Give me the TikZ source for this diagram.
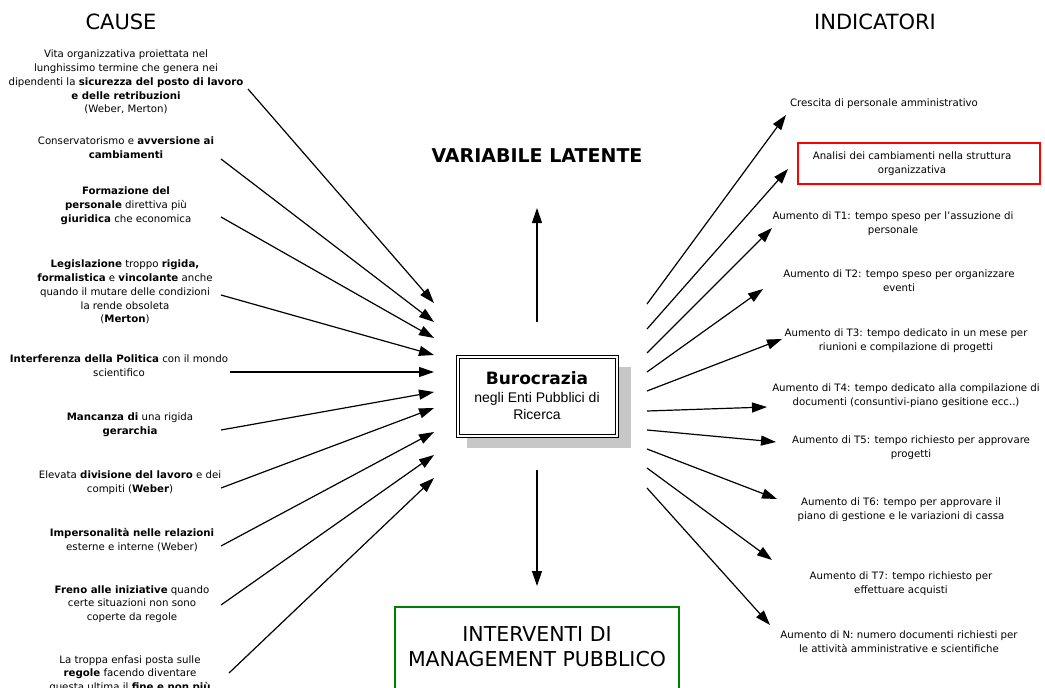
\documentclass[tikz,border=0pt]{standalone}
\usepackage{fontspec}
\setmainfont{DejaVu Sans}
\newfontfamily\arialfont{Liberation Sans}
\usetikzlibrary{arrows.meta}

\tikzset{
  testo/.style={align=center, inner sep=0pt, font=\fontsize{10.2}{13.8}\selectfont},
  titolo/.style={inner sep=0pt, font=\fontsize{21}{24}\selectfont},
  freccia/.style={-{Triangle[length=15pt,width=10pt]}, line width=1.2pt},
}

\begin{document}
\begin{tikzpicture}[x=1pt,y=-1pt]
  \clip (0,0) rectangle (1045,688);
  %TITOLI
  \node[titolo] (cause) at (121,22) {CAUSE};
  \node[titolo] (indicatori) at (875,22) {INDICATORI};
  \node[titolo, font=\fontsize{19}{22}\selectfont\bfseries] (latente) at (537,156) {VARIABILE LATENTE};

  %BUROCRAZIA
  \fill[black!22] (467,367) rectangle (631,448);
  \draw[fill=white, line width=0.6pt] (456,355) rectangle (618,437);
  \draw[line width=0.6pt] (459,358) rectangle (615,434);
  \node[inner sep=0pt, font=\fontsize{17}{20}\selectfont\bfseries] (buro) at (537,378) {Burocrazia};
  \node[align=center, inner sep=0pt, font=\arialfont\fontsize{14}{17}\selectfont] (enti) at (537,406)
    {negli Enti Pubblici di\\ Ricerca};

  %INTERVENTI
  \draw[green!50!black, line width=2.2pt] (395,607) rectangle (679,700);
  \node[titolo, align=center, font=\fontsize{20.5}{25}\selectfont] (interventi) at (537,647)
    {INTERVENTI DI\\ MANAGEMENT PUBBLICO};

  %FRECCE CENTRALI
  \coordinate (su0) at (537,322);
  \coordinate (su1) at (537,208);
  \coordinate (giu0) at (537,470);
  \coordinate (giu1) at (537,586);
  \draw[freccia] (su0) -- (su1);
  \draw[freccia] (giu0) -- (giu1);

  %CAUSE
  \node[testo] (c1) at (126,82) {Vita organizzativa proiettata nel\\ lunghissimo termine che genera nei\\
    dipendenti la \textbf{sicurezza del posto di lavoro}\\ \textbf{e delle retribuzioni}\\ (Weber, Merton)};
  \node[testo] (c2) at (126,148) {Conservatorismo e \textbf{avversione ai}\\ \textbf{cambiamenti}};
  \node[testo] (c3) at (126,206) {\textbf{Formazione del}\\ \textbf{personale} direttiva più\\ \textbf{giuridica} che economica};
  \node[testo] (c4) at (125,292) {\textbf{Legislazione} troppo \textbf{rigida,}\\ \textbf{formalistica} e \textbf{vincolante} anche\\
    quando il mutare delle condizioni\\ la rende obsoleta\\ (\textbf{Merton})};
  \node[testo] (c5) at (119,366) {\textbf{Interferenza della Politica} con il mondo\\ scientifico};
  \node[testo] (c6) at (130,425) {\textbf{Mancanza di} una rigida\\ \textbf{gerarchia}};
  \node[testo] (c7) at (130,483) {Elevata \textbf{divisione del lavoro} e dei\\ compiti (\textbf{Weber})};
  \node[testo] (c8) at (132,540) {\textbf{Impersonalità nelle relazioni}\\ esterne e interne (Weber)};
  \node[testo] (c9) at (132,604) {\textbf{Freno alle iniziative} quando\\ certe situazioni non sono\\ coperte da regole};
  \node[testo] (c10) at (130,674) {La troppa enfasi posta sulle\\ \textbf{regole} facendo diventare\\ questa ultima il \textbf{fine e non più}};

  %FRECCE CAUSE
  \coordinate (a1) at (248,89);   \coordinate (b1) at (434,303);
  \coordinate (a2) at (221,159);  \coordinate (b2) at (434,322);
  \coordinate (a3) at (221,217);  \coordinate (b3) at (434,338);
  \coordinate (a4) at (221,295);  \coordinate (b4) at (434,355);
  \coordinate (a5) at (230,372);  \coordinate (b5) at (434,372);
  \coordinate (a6) at (221,430);  \coordinate (b6) at (434,392);
  \coordinate (a7) at (221,488);  \coordinate (b7) at (434,408);
  \coordinate (a8) at (221,546);  \coordinate (b8) at (434,432);
  \coordinate (a9) at (221,605);  \coordinate (b9) at (434,455);
  \coordinate (a10) at (229,673); \coordinate (b10) at (434,478);
  \foreach \i in {1,...,10}
    \draw[freccia] (a\i) -- (b\i);

  %INDICATORI
  \node[testo] (i1) at (884,104) {Crescita di personale amministrativo};
  \draw[red, line width=2.2pt] (798,143) rectangle (1040,184);
  \node[testo] (i2) at (912,164) {Analisi dei cambiamenti nella struttura\\ organizzativa};
  \node[testo] (i3) at (893,224) {Aumento di T1: tempo speso per l'assuzione di\\ personale};
  \node[testo] (i4) at (899,281) {Aumento di T2: tempo speso per organizzare\\ eventi};
  \node[testo] (i5) at (906,341) {Aumento di T3: tempo dedicato in un mese per\\ riunioni e compilazione di progetti};
  \node[testo] (i6) at (906,396) {Aumento di T4: tempo dedicato alla compilazione di\\ documenti (consuntivi-piano gesitione ecc..)};
  \node[testo] (i7) at (911,448) {Aumento di T5: tempo richiesto per approvare\\ progetti};
  \node[testo] (i8) at (901,510) {Aumento di T6: tempo per approvare il\\ piano di gestione e le variazioni di cassa};
  \node[testo] (i9) at (901,584) {Aumento di T7: tempo richiesto per\\ effettuare acquisti};
  \node[testo] (i10) at (899,642) {Aumento di N: numero documenti richiesti per\\ le attività amministrative e scientifiche};

  %FRECCE INDICATORI
  \coordinate (p1) at (647,304);  \coordinate (q1) at (786,115);
  \coordinate (p2) at (647,329);  \coordinate (q2) at (788,169);
  \coordinate (p3) at (647,353);  \coordinate (q3) at (772,228);
  \coordinate (p4) at (647,372);  \coordinate (q4) at (763,289);
  \coordinate (p5) at (647,391);  \coordinate (q5) at (782,339);
  \coordinate (p6) at (647,411);  \coordinate (q6) at (767,407);
  \coordinate (p7) at (647,430);  \coordinate (q7) at (776,442);
  \coordinate (p8) at (647,449);  \coordinate (q8) at (777,499);
  \coordinate (p9) at (647,468);  \coordinate (q9) at (772,560);
  \coordinate (p10) at (647,488); \coordinate (q10) at (770,625);
  \foreach \i in {1,...,10}
    \draw[freccia] (p\i) -- (q\i);
\end{tikzpicture}
\end{document}
